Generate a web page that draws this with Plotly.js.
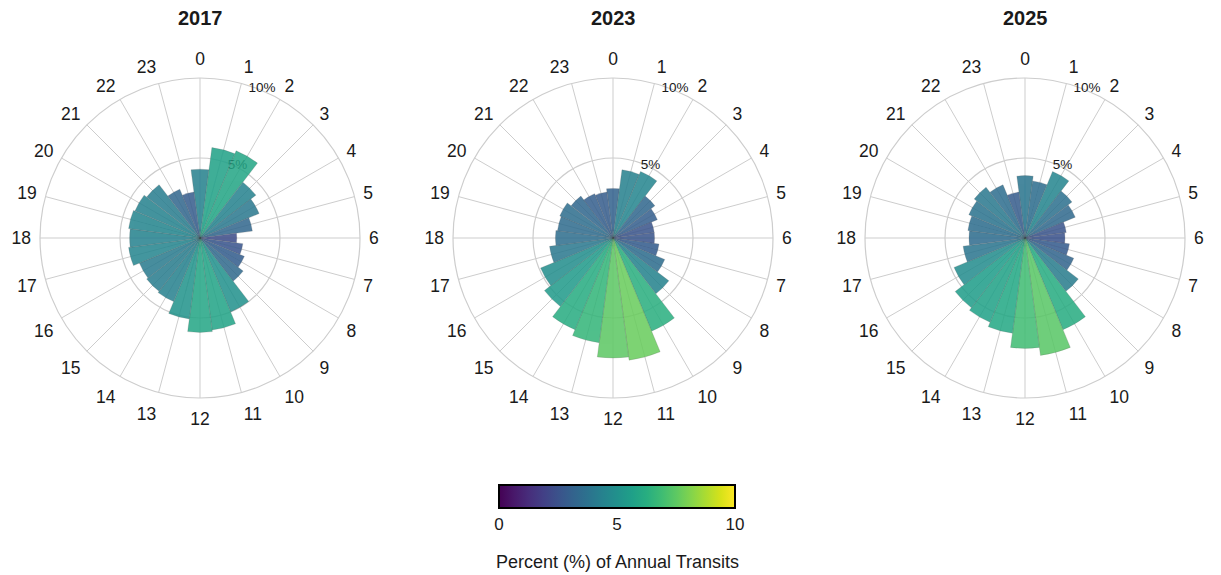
<!DOCTYPE html>
<html>
<head>
<meta charset="utf-8">
<script src="https://cdn.plot.ly/plotly-3.0.1.min.js"></script>
<style>
  html, body { margin: 0; padding: 0; background: #ffffff; }
  #chart { width: 1221px; height: 575px; }
</style>
</head>
<body>
<div id="chart"></div>
<script>
// ---- data (percent of annual transits per hour of day) ----
const hourLabels = ['0','1','2','3','4','5','6','7','8','9','10','11',
                    '12','13','14','15','16','17','18','19','20','21','22','23'];
const years = ['2017', '2023', '2025'];
const pct2017 = [4.3, 5.7, 5.9, 4.4, 4.0, 3.3, 2.3, 2.7, 3.0, 3.4, 5.0, 5.8,
                 5.9, 5.1, 4.3, 4.2, 4.1, 4.5, 4.4, 4.5, 4.4, 4.2, 3.3, 2.9];
const pct2023 = [3.1, 4.3, 4.5, 3.3, 3.0, 2.6, 2.6, 2.9, 3.5, 4.4, 6.3, 7.7,
                 7.5, 6.6, 6.2, 5.4, 4.9, 4.0, 3.6, 3.5, 3.6, 3.3, 3.0, 2.9];
const pct2025 = [3.9, 3.6, 4.5, 3.7, 3.4, 2.6, 2.5, 2.8, 3.3, 4.2, 6.2, 7.4,
                 6.9, 6.0, 5.7, 5.5, 4.8, 3.9, 3.5, 3.6, 3.8, 4.0, 3.6, 2.9];
const radialTicks = [5, 10];
const radialTickText = ['5%', '10%'];
const colorTicks = [0, 5, 10];
const colorbarTitle = 'Percent (%) of Annual Transits';
const seriesList = [pct2017, pct2023, pct2025];

// ---- layout geometry (pixels) ----
const W = 1221, H = 575;
const centersX = [200, 613, 1025];
const centerY = 238;
const R = 160;

const FONT = 'Liberation Sans, Arial, sans-serif';
const GRID = '#cdcdcd';
const TEXT = '#1a1a1a';

const traces = [];
const layout = {
  width: W, height: H,
  margin: {l: 0, r: 0, t: 0, b: 0},
  paper_bgcolor: '#ffffff',
  showlegend: false,
  font: {family: FONT, color: TEXT},
  coloraxis: {
    colorscale: 'Viridis', cmin: 0, cmax: 10,
    colorbar: {
      orientation: 'h',
      x: 617 / W, xanchor: 'center',
      y: (H - 485) / H, yanchor: 'top',
      len: 236, lenmode: 'pixels',
      thickness: 23, thicknessmode: 'pixels',
      outlinewidth: 2, outlinecolor: '#000000',
      xpad: 0, ypad: 0,
      tickvals: colorTicks, ticktext: colorTicks.map(String),
      ticks: '', ticklen: 0,
      tickfont: {size: 17, family: FONT, color: TEXT}
    }
  },
  annotations: [{
    text: colorbarTitle,
    x: 617 / W, y: (H - 562) / H,
    xref: 'paper', yref: 'paper',
    xanchor: 'center', yanchor: 'middle',
    showarrow: false,
    font: {size: 18, family: FONT, color: TEXT}
  }]
};

seriesList.forEach((vals, i) => {
  const key = i === 0 ? 'polar' : 'polar' + (i + 1);
  traces.push({
    type: 'barpolar',
    subplot: key,
    theta: hourLabels,
    r: vals,
    marker: {
      color: vals,
      coloraxis: 'coloraxis',
      opacity: 0.86,
      line: {color: 'rgba(70,70,70,0.35)', width: 0.6}
    },
    hoverinfo: 'theta+r'
  });
  const cx = centersX[i];
  layout[key] = {
    domain: {
      x: [(cx - R) / W, (cx + R) / W],
      y: [(H - centerY - R) / H, (H - centerY + R) / H]
    },
    bgcolor: '#ffffff',
    bargap: 0,
    angularaxis: {
      type: 'category',
      categoryorder: 'array',
      categoryarray: hourLabels,
      rotation: 90,
      direction: 'clockwise',
      showgrid: true, gridcolor: GRID, gridwidth: 1,
      showline: true, linecolor: GRID, linewidth: 1.2,
      ticks: 'outside', ticklen: 5, tickcolor: 'rgba(0,0,0,0)',
      tickfont: {size: 17.5, family: FONT, color: TEXT},
      layer: 'below traces'
    },
    radialaxis: {
      range: [0, 10],
      angle: 75,
      tickangle: 75,
      tickvals: radialTicks,
      ticktext: radialTickText,
      showline: false,
      ticks: '',
      showgrid: true, gridcolor: GRID, gridwidth: 1.2,
      tickfont: {size: 13.5, family: FONT, color: TEXT},
      layer: 'below traces'
    }
  };
  layout.annotations.push({
    text: '<b>' + years[i] + '</b>',
    x: cx / W, y: (H - 18) / H,
    xref: 'paper', yref: 'paper',
    xanchor: 'center', yanchor: 'middle',
    showarrow: false,
    font: {size: 20, family: FONT, color: TEXT}
  });
});

Plotly.newPlot('chart', traces, layout, {displayModeBar: false, staticPlot: true});
</script>
</body>
</html>
